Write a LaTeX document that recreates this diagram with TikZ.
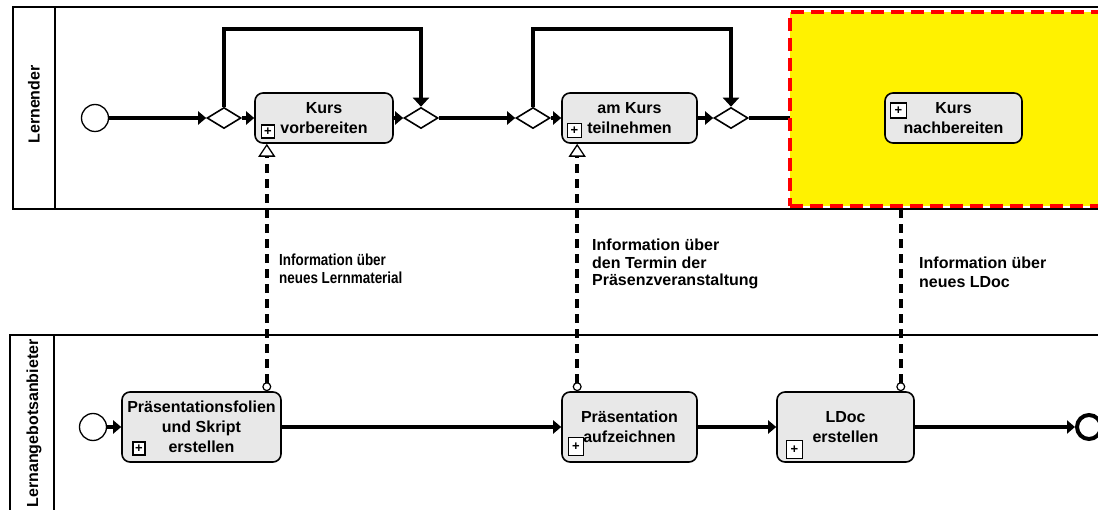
\documentclass[tikz,border=0pt]{standalone}
\usepackage{fontspec}
\setmainfont{Liberation Sans}
\usetikzlibrary{arrows.meta,shapes.geometric,calc}
\definecolor{taskgray}{HTML}{E8E8E8}
\pgfdeclarelayer{under}
\pgfsetlayers{under,main}

\tikzset{
  pool/.style={draw, line width=2pt},
  task/.style={draw, line width=1.6pt, fill=taskgray, rectangle, rounded corners=8pt,
    inner sep=0pt, align=center, font=\bfseries\fontsize{16}{20}\selectfont},
  gate/.style={draw, line width=1.6pt, fill=white, diamond, inner sep=0pt,
    minimum width=34pt, minimum height=21pt},
  startev/.style={draw, circle, line width=1.3pt, fill=white, minimum size=27pt, inner sep=0pt},
  endev/.style={draw, circle, line width=4pt, fill=white, minimum size=24pt, inner sep=0pt},
  flow/.style={line width=3.6pt, -{Triangle[length=8pt,width=13pt]}},
  plainflow/.style={line width=3.6pt},
  loopflow/.style={line width=4.2pt, -{Triangle[length=9pt,width=16pt]}},
  msg/.style={line width=3.5pt, dash pattern=on 9pt off 6pt,
    {Circle[fill=white,line width=1.2pt,length=9pt,width=9pt]}-{Triangle[fill=white,line width=1.3pt,length=13pt,width=17pt]}},
  marker/.style={draw, fill=white, line width=1.2pt, inner sep=0pt,
    font=\bfseries\fontsize{13}{13}\selectfont},
  lanelabel/.style={rotate=90, inner sep=0pt, font=\bfseries\fontsize{16}{16}\selectfont},
  msglabel/.style={align=left, anchor=west, inner sep=0pt},
  zone/.style={draw=red, fill=yellow, line width=3.8pt, dash pattern=on 13pt off 7pt,
    inner sep=0pt, anchor=north west},
}

\begin{document}
\begin{tikzpicture}[x=1pt, y=-1pt]
\useasboundingbox (0,0) rectangle (1098,510);
\clip (0,0) rectangle (1098,510);

% pools and lanes
\draw[pool] (13,7) rectangle (1130,209);
\draw[pool] (55,7) -- (55,209);
\draw[pool] (10,335) rectangle (1130,540);
\draw[pool] (54,335) -- (54,540);
\node[lanelabel] (lane1) at (34,104.5) {Lernender};
\node[lanelabel] (lane2) at (34,423.5) {Lernangebotsanbieter};

% highlighted area of the learner lane
\node[zone, minimum width=340pt, minimum height=194pt] (zone) at (788,10) {};

% learner lane
\node[startev] (s1) at (95,118) {};
\node[gate] (g1) at (224,118) {};
\node[task, minimum width=138pt, minimum height=50pt] (kv) at (324,118) {Kurs\\vorbereiten};
\node[gate] (g2) at (421,118) {};
\node[gate] (g3) at (533,118) {};
\node[task, minimum width=135pt, minimum height=50pt] (kt) at (629.5,118) {am Kurs\\teilnehmen};
\node[gate] (g4) at (731,118) {};
\node[task, minimum width=137pt, minimum height=50pt] (kn) at (953.5,118) {Kurs\\nachbereiten};

\node[marker, minimum width=13pt, minimum height=13pt] (kvm) at (268,131.5) {+};
\node[marker, minimum width=14pt, minimum height=14pt] (ktm) at (574.5,130.5) {+};
\node[marker, minimum width=16pt, minimum height=15pt] (knm) at (898.5,110.5) {+};

% provider lane
\node[startev] (s2) at (93,427) {};
\node[task, minimum width=159pt, minimum height=70pt] (pf) at (201.5,427)
  {Präsentationsfolien\\und Skript\\erstellen};
\node[task, minimum width=135pt, minimum height=70pt] (pa) at (629.5,427)
  {Präsentation\\aufzeichnen};
\node[task, minimum width=137pt, minimum height=70pt] (ld) at (845.5,427)
  {LDoc\\erstellen};
\node[endev] (e2) at (1089,427) {};

\node[marker, minimum width=12pt, minimum height=13pt] (pfm) at (139,448.5) {+};
\node[marker, minimum width=15pt, minimum height=18pt] (pam) at (576,446.5) {+};
\node[marker, minimum width=16pt, minimum height=18pt] (ldm) at (794.5,449.5) {+};

% sequence flows
\draw[flow] (s1.east) -- (g1.west);
\draw[flow] (g1.east) -- (kv.west);
\draw[flow] (kv.east) -- (g2.west);
\draw[flow] (g2.east) -- (g3.west);
\draw[flow] (g3.east) -- (kt.west);
\draw[flow] (kt.east) -- (g4.west);
\draw[loopflow] (g1.north) -- ++(0,-78) -| (g2.north);
\draw[loopflow] (g3.north) -- ++(0,-78) -| (g4.north);

\draw[flow] (s2.east) -- (pf.west);
\draw[flow] (pf.east) -- (pa.west);
\draw[flow] (pa.east) -- (ld.west);
\draw[flow] (ld.east) -- (e2.west);

% message flows
\draw[msg] ([xshift=-15pt]pf.north east) -- ([xshift=-15pt]pf.north east |- kv.south);
\draw[msg] ([xshift=16pt]pa.north west) -- ([xshift=16pt]pa.north west |- kt.south);

% connections that run beneath the highlighted area
\begin{pgfonlayer}{under}
\draw[plainflow] (g4.east) -- (kn.west);
\draw[msg] ([xshift=-14pt]ld.north east) -- ([xshift=-14pt]ld.north east |- kn.south);
\end{pgfonlayer}

% message labels
\node[msglabel, xscale=0.84, font=\bfseries\fontsize{16}{18}\selectfont] (t1) at (279,269)
  {Information über\\neues Lernmaterial};
\node[msglabel, font=\bfseries\fontsize{16}{17.5}\selectfont] (t2) at (592,264)
  {Information über\\den Termin der\\Präsenzveranstaltung};
\node[msglabel, font=\bfseries\fontsize{16}{19}\selectfont] (t3) at (919,272)
  {Information über\\neues LDoc};
\end{tikzpicture}
\end{document}
